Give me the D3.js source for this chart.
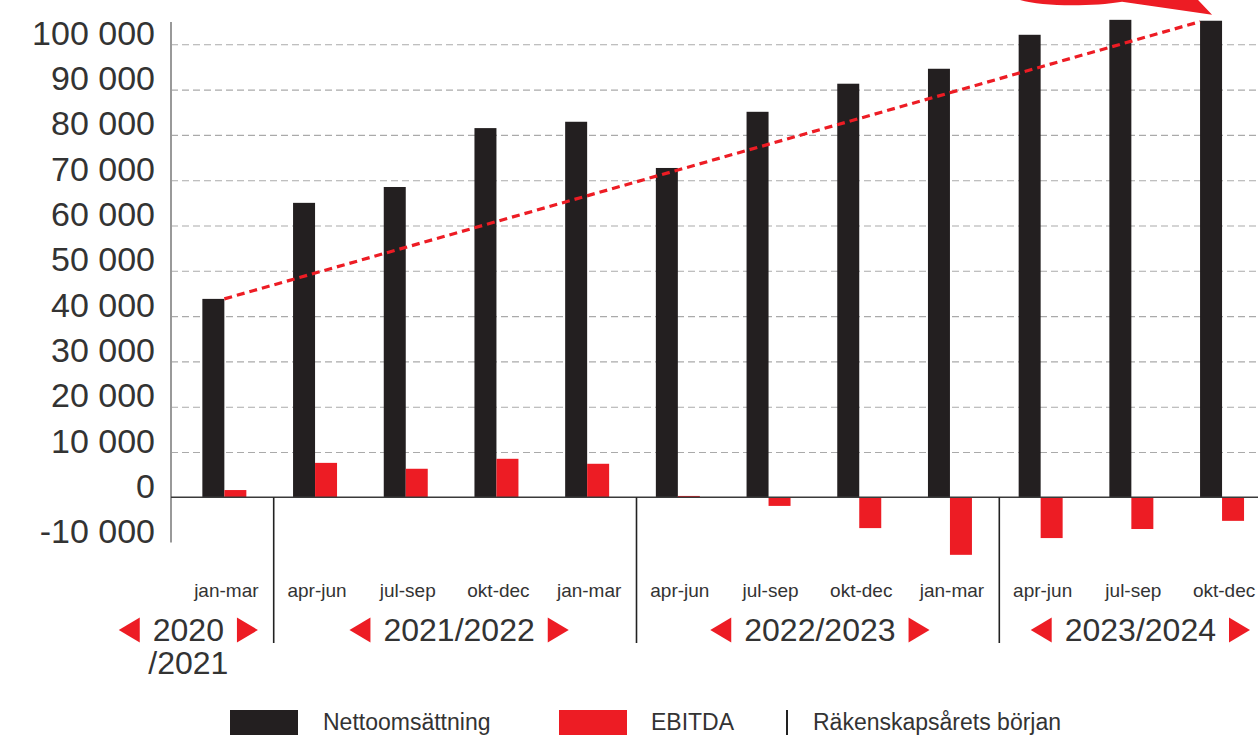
<!DOCTYPE html>
<html>
<head>
<meta charset="utf-8">
<script src="https://cdn.jsdelivr.net/npm/d3@7"></script>
<style>
  body { margin: 0; background: #fff; }
  svg { display: block; font-family: "Liberation Sans", Arial, sans-serif; }
</style>
</head>
<body>
<div id="chart"></div>
<script>
// data
var quarters = ["jan-mar", "apr-jun", "jul-sep", "okt-dec", "jan-mar", "apr-jun", "jul-sep", "okt-dec", "jan-mar", "apr-jun", "jul-sep", "okt-dec"];
var netSales = [43800, 65000, 68500, 81500, 82900, 72700, 85100, 91300, 94600, 102100, 105400, 105200];
var ebitda = [1600, 7600, 6300, 8500, 7400, 300, -1900, -6800, -12700, -9000, -7000, -5200];
var yTicks = [-10000, 0, 10000, 20000, 30000, 40000, 50000, 60000, 70000, 80000, 90000, 100000];
var fiscalYears = ["2020/2021", "2021/2022", "2022/2023", "2023/2024"];
var fiscalStart = [0, 1, 5, 9];
var trendValues = [43800, 105000];
var legendLabels = ["Nettoomsättning", "EBITDA", "Räkenskapsårets början"];

var W = 1258, H = 735;
var black = "#231f20", red = "#ed1c24", ink = "#333";

var svg = d3.select("#chart").append("svg")
    .attr("width", W)
    .attr("height", H);

var y = d3.scaleLinear()
    .domain([-10000, 100000])
    .range([542.6, 44.3]);

var step = 90.7;
var x = d3.scaleBand()
    .domain(d3.range(quarters.length))
    .range([179, 179 + step * quarters.length])
    .paddingInner(0.515)
    .paddingOuter(0.2575);

var sub = d3.scaleBand()
    .domain(["net", "ebitda"])
    .range([0, x.bandwidth()]);

var fmt = d3.formatLocale({ decimal: ",", thousands: " ", grouping: [3], currency: ["", ""], minus: "-" }).format(",d");

// gridlines
var grid = svg.append("g")
    .attr("transform", "translate(171,0)")
    .call(d3.axisLeft(y).tickValues(yTicks.filter(d => d > 0)).tickSize(-(W - 171)).tickFormat(""));
grid.select(".domain").remove();
grid.selectAll("line")
    .attr("stroke", "#aaa")
    .attr("stroke-width", 1.1)
    .attr("stroke-dasharray", "7 4");

// y axis labels
var yAxis = svg.append("g")
    .attr("transform", "translate(171,0)")
    .call(d3.axisLeft(y).tickValues(yTicks).tickSize(0).tickPadding(16).tickFormat(fmt));
yAxis.select(".domain").remove();
yAxis.selectAll("text")
    .attr("dy", 0)
    .attr("fill", ink)
    .style("font-size", "34px")
    .style("font-family", "Liberation Sans, Arial, sans-serif");

svg.append("line")
    .attr("x1", 171).attr("x2", 171)
    .attr("y1", 22).attr("y2", y(-10000))
    .attr("stroke", "#999").attr("stroke-width", 2);

// bars
var groups = svg.selectAll(".grp")
    .data(quarters)
    .enter()
    .append("g")
    .attr("transform", (d, i) => "translate(" + x(i) + ",0)");

groups.append("rect")
    .attr("x", sub("net"))
    .attr("width", sub.bandwidth())
    .attr("y", (d, i) => y(netSales[i]))
    .attr("height", (d, i) => y(0) - y(netSales[i]))
    .attr("fill", black);

groups.append("rect")
    .attr("x", sub("ebitda"))
    .attr("width", sub.bandwidth())
    .attr("y", (d, i) => y(Math.max(0, ebitda[i])))
    .attr("height", (d, i) => Math.abs(y(ebitda[i]) - y(0)))
    .attr("fill", red);

// zero line
svg.append("line")
    .attr("x1", 171).attr("x2", W)
    .attr("y1", y(0)).attr("y2", y(0))
    .attr("stroke", "#3a3a3a").attr("stroke-width", 1.6);

// trend line
var n = quarters.length - 1;
var t0 = [x(0) + sub("ebitda"), y(trendValues[0])];
var t1 = [x(n), y(trendValues[1])];
svg.append("line")
    .attr("x1", t0[0]).attr("y1", t0[1])
    .attr("x2", t1[0]).attr("y2", t1[1])
    .attr("stroke", red)
    .attr("stroke-width", 3.2)
    .attr("stroke-dasharray", "8 5");

// swoosh arrow at the top
var tx = t1[0] + 12, ty = t1[1] - 7;
svg.append("path")
    .attr("d", "M" + (tx - 192) + ",0 C" + (tx - 170) + "," + (ty - 8) + " " + (tx - 120) + "," + (ty - 8) + " " + (tx - 90) + "," + (ty - 13)
        + " L" + tx + "," + ty + " L" + (tx - 14) + ",0 Z")
    .attr("fill", red);

// quarter labels
svg.selectAll(".q")
    .data(quarters)
    .enter()
    .append("text")
    .attr("x", (d, i) => x(i) + x.bandwidth() / 2 + 2)
    .attr("y", 597)
    .attr("text-anchor", "middle")
    .attr("fill", ink)
    .style("font-size", "19px")
    .text(d => d);

// fiscal year separators (step boundaries, nudged right as in the original)
var sepX = i => x.range()[0] + i * step + 4;
svg.selectAll(".sep")
    .data(fiscalStart.slice(1))
    .enter()
    .append("line")
    .attr("x1", d => sepX(d)).attr("x2", d => sepX(d))
    .attr("y1", y(0)).attr("y2", 643)
    .attr("stroke", "#222").attr("stroke-width", 1.6);

// fiscal year labels
var yearDx = [-40, 4, 2, 5];
fiscalYears.forEach(function(name, k) {
    var a = fiscalStart[k];
    var b = k + 1 < fiscalStart.length ? fiscalStart[k + 1] : quarters.length;
    var cx = (sepX(a) + sepX(b)) / 2 + yearDx[k];
    var lines = (b - a) === 1 ? [name.split("/")[0], "/" + name.split("/")[1]] : [name];
    var g = svg.append("g");
    var t = g.append("text")
        .attr("x", cx).attr("y", 641)
        .attr("text-anchor", "middle")
        .attr("fill", ink)
        .style("font-size", "32px")
        .text(lines[0]);
    if (lines[1]) {
        g.append("text")
            .attr("x", cx).attr("y", 674)
            .attr("text-anchor", "middle")
            .attr("fill", ink)
            .style("font-size", "32px")
            .text(lines[1]);
    }
    var hw = t.node().getComputedTextLength() / 2;
    var cy = 630, th = 12.5, tw = 21, gap = 13;
    var lx = cx - hw - gap;
    g.append("path")
        .attr("d", "M" + lx + "," + (cy - th) + " L" + (lx - tw) + "," + cy + " L" + lx + "," + (cy + th) + " Z")
        .attr("fill", red);
    var rx = cx + hw + gap;
    g.append("path")
        .attr("d", "M" + rx + "," + (cy - th) + " L" + (rx + tw) + "," + cy + " L" + rx + "," + (cy + th) + " Z")
        .attr("fill", red);
});

// legend
var legend = svg.append("g").style("font-size", "23px");
legend.append("rect").attr("x", 230).attr("y", 710).attr("width", 68).attr("height", 30).attr("fill", black);
legend.append("text").attr("x", 323).attr("y", 730).attr("fill", ink).text(legendLabels[0]);
legend.append("rect").attr("x", 559).attr("y", 710).attr("width", 68).attr("height", 30).attr("fill", red);
legend.append("text").attr("x", 651).attr("y", 730).attr("fill", ink).text(legendLabels[1]);
legend.append("line").attr("x1", 787).attr("x2", 787).attr("y1", 710).attr("y2", H).attr("stroke", "#222").attr("stroke-width", 2);
legend.append("text").attr("x", 813).attr("y", 730).attr("fill", ink).text(legendLabels[2]);
</script>
</body>
</html>
